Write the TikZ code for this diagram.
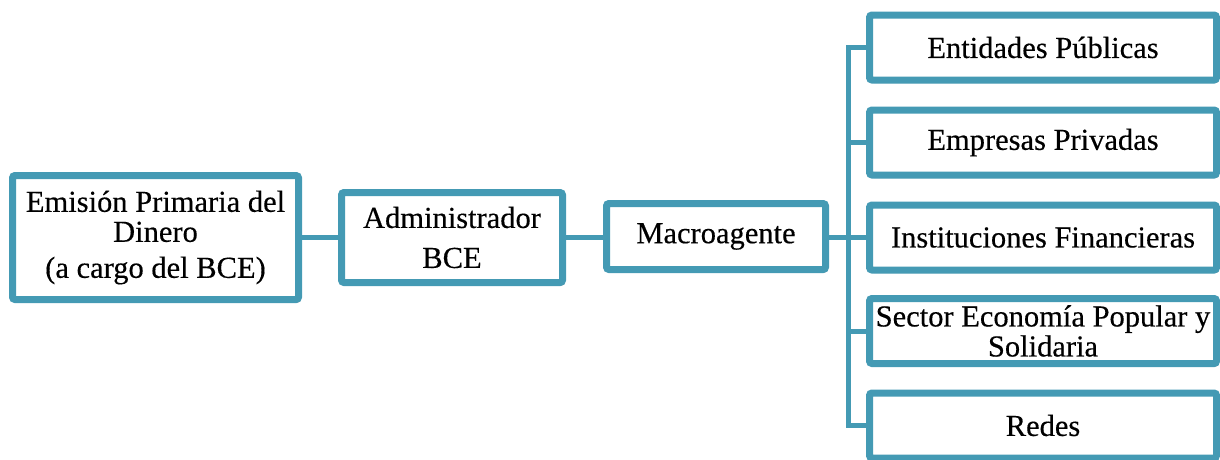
\documentclass[tikz,border=0pt]{standalone}
\usepackage{fontspec}
\setmainfont{Liberation Serif}[FakeBold=0.35]
\usetikzlibrary{shadows}
\definecolor{teal1}{RGB}{68,154,180}
\tikzset{
  box/.style={draw=teal1, line width=7pt, fill=white, rounded corners=2.5pt,
    inner sep=0pt, align=center,
    font=\fontsize{30.5}{30}\selectfont,
    drop shadow={shadow xshift=2pt, shadow yshift=-3pt, opacity=0.3, fill=black}},
  link/.style={draw=teal1, line width=5pt}
}
\begin{document}
\begin{tikzpicture}[x=1pt,y=-1pt]
\useasboundingbox (0,0) rectangle (1220,459);
\node[box, minimum width=286pt, minimum height=124pt] (b1) at (155.5,237.5)
  {Emisión Primaria del\\Dinero\\[6pt](a cargo del BCE)};
\node[box, minimum width=221pt, minimum height=90pt] (b2) at (452,237.5)
  {Administrador\\[10pt]BCE};
\node[box, minimum width=219pt, minimum height=66pt] (b3) at (716,236.5)
  {Macroagente};
\node[box, minimum width=347pt, minimum height=65pt] (r1) at (1043,47.5) {Entidades Públicas};
\node[box, minimum width=347pt, minimum height=65pt] (r2) at (1043,142.5) {Empresas Privadas};
\node[box, minimum width=347pt, minimum height=65pt] (r3) at (1043,237.5) {Instituciones Financieras};
\node[box, minimum width=347pt, minimum height=65pt] (r4) at (1043,331) {Sector Economía Popular y\\Solidaria};
\node[box, minimum width=347pt, minimum height=65pt] (r5) at (1043,425.5) {Redes};
\coordinate (top) at (848,47.5);
\coordinate (bot) at (848,425.5);
\coordinate (mid) at (848,237.5);
\coordinate (m2) at (848,142.5);
\coordinate (m4) at (848,331);
\path[link] (b1.east) -- (b2.west);
\path[link] (b2.east) -- (b3.west |- b2.east);
\path[link] (b3.east |- mid) -- (mid);
\path[link, line cap=rect] (top) -- (bot);
\path[link] (top) -- (r1.west);
\path[link] (m2) -- (r2.west);
\path[link] (mid) -- (r3.west);
\path[link] (m4) -- (r4.west);
\path[link] (bot) -- (r5.west);
\end{tikzpicture}
\end{document}
